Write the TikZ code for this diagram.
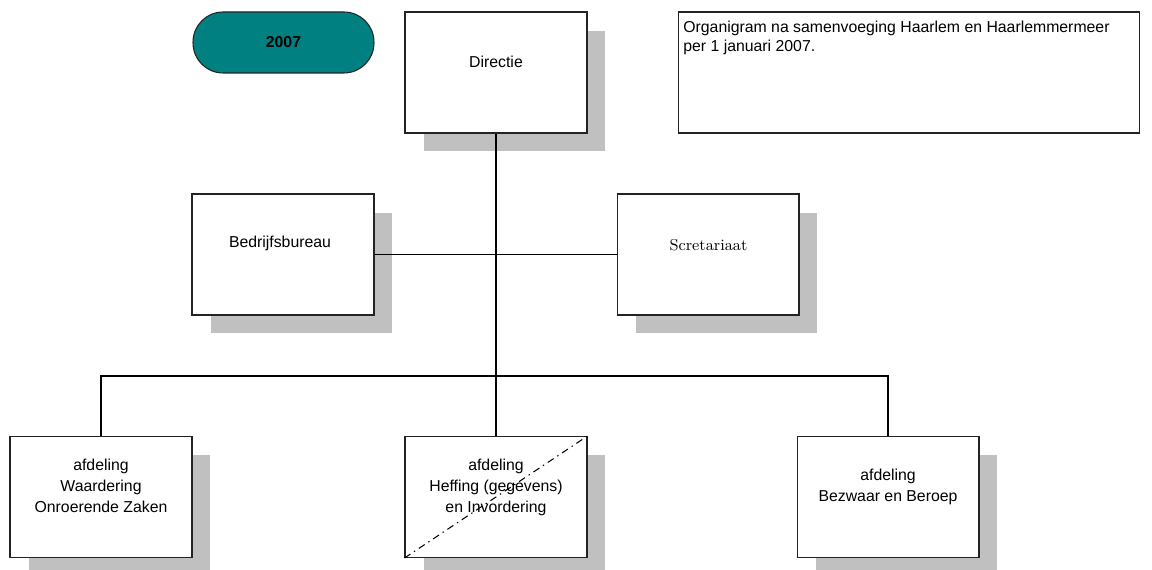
\documentclass[tikz,border=0pt]{standalone}
\usepackage{fontspec}
\usepackage{tikz}
\usetikzlibrary{shadows}
\newfontfamily\arialfont{Liberation Sans}
\definecolor{tealfill}{RGB}{0,128,128}
\definecolor{shadegray}{RGB}{192,192,192}
\definecolor{framegray}{RGB}{35,35,35}

\begin{document}
\begin{tikzpicture}[x=0.02cm,y=-0.02cm,
	unit/.style={draw=framegray,line width=0.6pt,fill=white,minimum width=3.64cm,minimum height=2.42cm,inner sep=0pt,
		drop shadow={shadow xshift=0.37cm,shadow yshift=-0.37cm,fill=shadegray,opacity=1}},
	unittext/.style={font=\arialfont\fontsize{9}{12}\selectfont,align=center,inner sep=0pt},
	link/.style={draw=black,line width=0.6pt},
	mainlink/.style={draw=black,line width=1.2pt}]
	\useasboundingbox (0,0) rectangle (1152,570);

	\node[draw=framegray,line width=0.6pt,fill=tealfill,rounded corners=0.6cm,minimum width=3.62cm,minimum height=1.22cm,inner sep=0pt,font=\arialfont\bfseries\fontsize{9}{11}\selectfont] (year) at (283.5,42.5) {2007};
	\node[draw=framegray,line width=0.6pt,minimum width=9.24cm,minimum height=2.42cm,inner sep=0pt] (note) at (909,72.5) {};
	\node[anchor=north west,inner sep=0pt,align=left,font=\arialfont\fontsize{9}{10.8}\selectfont] (note-t) at (683,21) {Organigram na samenvoeging Haarlem en Haarlemmermeer\\per 1 januari 2007.};

	\node[unit] (directie) at (496,72.5) {};
	\node[unit] (bedrijf) at (283,254.5) {};
	\node[unit] (scret) at (708,254.5) {};
	\node[unit] (waard) at (101,497) {};
	\node[unit] (heffing) at (496,497) {};
	\node[unit] (bezwaar) at (888,497) {};

	\node[unittext] (directie-t) at (496,62) {Directie};
	\node[unittext] (bedrijf-t) at (280,243) {Bedrijfsbureau};
	\node[inner sep=0pt,font=\fontsize{9}{11}\selectfont] (scret-t) at (708.5,245) {Scretariaat};
	\node[unittext] (waard-t) at (101,486) {afdeling\\Waardering\\Onroerende Zaken};
	\node[unittext] (heffing-t) at (496,487) {afdeling\\Heffing (gegevens)\\en Invordering};
	\node[unittext] (bezwaar-t) at (888,486.5) {afdeling\\Bezwaar en Beroep};

	\coordinate (junction) at (496,376);
	\draw[mainlink] (directie.south) -- (junction);
	\draw[link] (bedrijf.east) -- (scret.west);
	\draw[link] (waard.north) -- (waard.north |- junction) -- (bezwaar.north |- junction) -- (bezwaar.north);
	\draw[link] (junction) -- (heffing.north);
	\draw[line width=0.6pt,dash pattern=on 4pt off 2.5pt on 0.8pt off 2.5pt] (heffing.south west) -- (heffing.north east);
\end{tikzpicture}
\end{document}
